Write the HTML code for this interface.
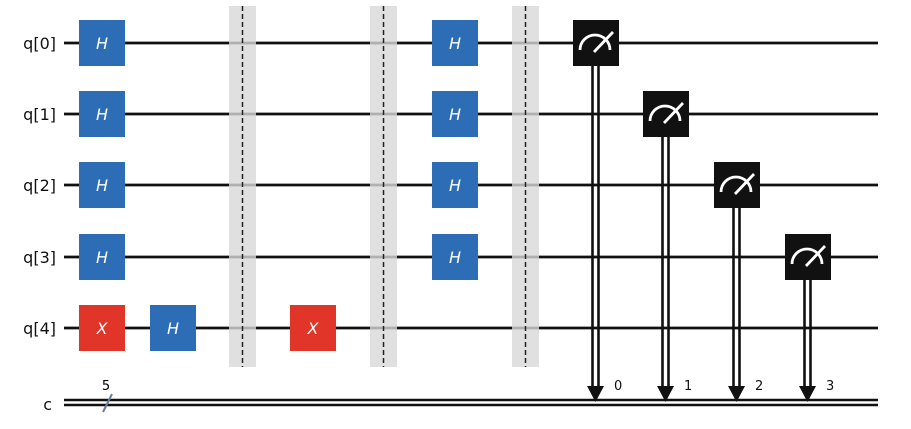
<!DOCTYPE html>
<html><head><meta charset="utf-8"><style>
html,body{margin:0;padding:0;background:#fff;}
svg{display:block;}
text{font-family:"DejaVu Sans","Liberation Sans",sans-serif;}
</style></head><body>
<svg width="911" height="429" viewBox="0 0 911 429" xmlns="http://www.w3.org/2000/svg">
<g stroke="#111" stroke-width="2.8">
<line x1="64" y1="43" x2="878" y2="43"/>
<line x1="64" y1="114" x2="878" y2="114"/>
<line x1="64" y1="185" x2="878" y2="185"/>
<line x1="64" y1="257" x2="878" y2="257"/>
<line x1="64" y1="328" x2="878" y2="328"/>
<line x1="64" y1="400" x2="878" y2="400" stroke-width="2.6"/>
<line x1="64" y1="405" x2="878" y2="405" stroke-width="2.6"/>
</g>
<line x1="103" y1="412" x2="112" y2="394" stroke="#6b7f96" stroke-width="2"/>
<text x="106" y="390" font-size="13" text-anchor="middle">5</text>
<g font-size="16" text-anchor="end" fill="#111">
<text x="56" y="49">q[0]</text>
<text x="56" y="120">q[1]</text>
<text x="56" y="191">q[2]</text>
<text x="56" y="263">q[3]</text>
<text x="56" y="334">q[4]</text>
<text x="52" y="410">c</text>
</g>
<g fill="#d8d8d8" fill-opacity="0.8">
<rect x="229" y="6" width="27" height="361"/>
<rect x="370" y="6" width="27" height="361"/>
<rect x="512" y="6" width="27" height="361"/>
</g>
<g stroke="#222" stroke-width="1.5" stroke-dasharray="5,3">
<line x1="242.5" y1="6" x2="242.5" y2="367"/>
<line x1="383.5" y1="6" x2="383.5" y2="367"/>
<line x1="525.5" y1="6" x2="525.5" y2="367"/>
</g>
<g fill="#2c6db5">
<rect x="79" y="20" width="46" height="46"/>
<rect x="79" y="91" width="46" height="46"/>
<rect x="79" y="162" width="46" height="46"/>
<rect x="79" y="234" width="46" height="46"/>
<rect x="150" y="305" width="46" height="46"/>
<rect x="432" y="20" width="46" height="46"/>
<rect x="432" y="91" width="46" height="46"/>
<rect x="432" y="162" width="46" height="46"/>
<rect x="432" y="234" width="46" height="46"/>
</g>
<g fill="#e1352a">
<rect x="79" y="305" width="46" height="46"/>
<rect x="290" y="305" width="46" height="46"/>
</g>
<g fill="#fff" font-size="16" font-style="italic" text-anchor="middle">
<text x="102" y="49">H</text><text x="102" y="120">H</text><text x="102" y="191">H</text><text x="102" y="263">H</text>
<text x="173" y="334">H</text>
<text x="455" y="49">H</text><text x="455" y="120">H</text><text x="455" y="191">H</text><text x="455" y="263">H</text>
<text x="102" y="334">X</text><text x="313" y="334">X</text>
</g>
<g stroke="#111" stroke-width="2.6">
<line x1="592.5" y1="64" x2="592.5" y2="390"/><line x1="598.5" y1="64" x2="598.5" y2="390"/>
<line x1="662.5" y1="135" x2="662.5" y2="390"/><line x1="668.5" y1="135" x2="668.5" y2="390"/>
<line x1="733.5" y1="206" x2="733.5" y2="390"/><line x1="739.5" y1="206" x2="739.5" y2="390"/>
<line x1="804.5" y1="278" x2="804.5" y2="390"/><line x1="810.5" y1="278" x2="810.5" y2="390"/>
</g>
<g fill="#111">
<polygon points="587,386 604,386 595.5,402"/>
<polygon points="657,386 674,386 665.5,402"/>
<polygon points="728,386 745,386 736.5,402"/>
<polygon points="799,386 816,386 807.5,402"/>
<rect x="573" y="20" width="46" height="46"/>
<rect x="643" y="91" width="46" height="46"/>
<rect x="714" y="162" width="46" height="46"/>
<rect x="785" y="234" width="46" height="46"/>
</g>
<g stroke="#fff" stroke-width="2.8" fill="none">
<path d="M580,50 A15,15 0 0 1 610,50"/><line x1="594" y1="52" x2="613" y2="32"/>
<path d="M650,121 A15,15 0 0 1 680,121"/><line x1="664" y1="123" x2="683" y2="103"/>
<path d="M721,192 A15,15 0 0 1 751,192"/><line x1="735" y1="194" x2="754" y2="174"/>
<path d="M792,264 A15,15 0 0 1 822,264"/><line x1="806" y1="266" x2="825" y2="246"/>
</g>
<g font-size="13" fill="#111">
<text x="614" y="390">0</text><text x="684" y="390">1</text><text x="755" y="390">2</text><text x="826" y="390">3</text>
</g>
</svg>
</body></html>
